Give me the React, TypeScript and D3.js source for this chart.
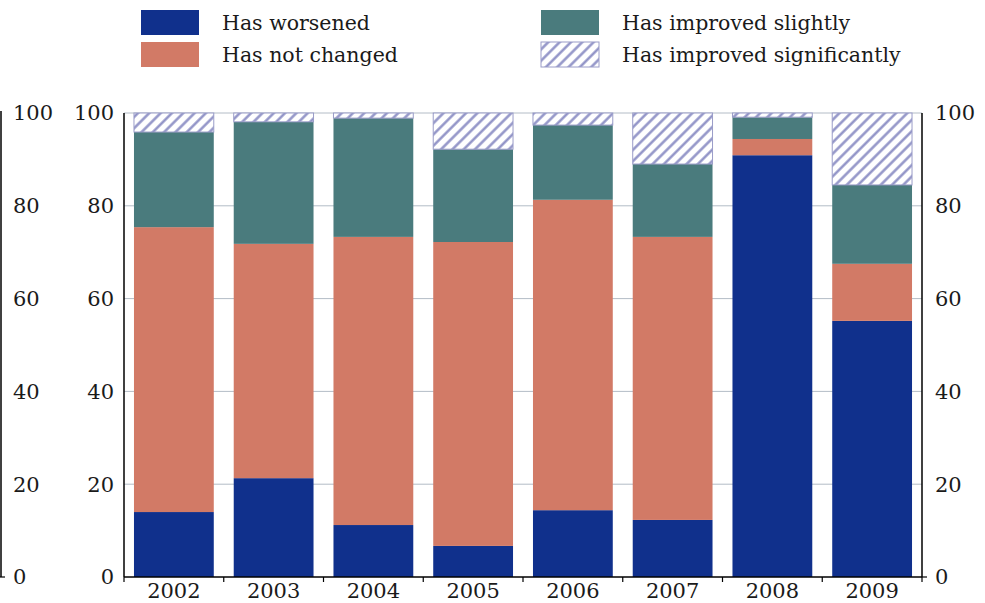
import * as d3 from 'd3';

const years = ['2002', '2003', '2004', '2005', '2006', '2007', '2008', '2009'];
const worsened = [14.0, 21.3, 11.2, 6.7, 14.4, 12.3, 90.9, 55.2];
const notChanged = [61.4, 50.5, 62.1, 65.5, 66.9, 61.0, 3.5, 12.3];
const improvedSlightly = [20.5, 26.3, 25.6, 20.0, 16.1, 15.7, 4.7, 17.0];
const improvedSignificantly = [4.1, 1.9, 1.1, 7.8, 2.6, 11.0, 0.9, 15.5];
const yTicks = [0, 20, 40, 60, 80, 100];

const seriesKeys = ['worsened', 'notChanged', 'slightly', 'significantly'];
const seriesLabels = ['Has worsened', 'Has not changed', 'Has improved slightly', 'Has improved significantly'];
const colors = ['#10308c', '#d27a66', '#4a7b7d', 'url(#hatch)'];

const W = 985;
const H = 603;
const margin = { top: 113, right: 63, bottom: 26, left: 124 };
const font = "'DejaVu Serif', 'Liberation Serif', 'Times New Roman', serif";

export default function App() {
  const rows = years.map((y, i) => ({
    year: y,
    worsened: worsened[i],
    notChanged: notChanged[i],
    slightly: improvedSlightly[i],
    significantly: improvedSignificantly[i],
  }));
  const stacked = d3.stack<any>().keys(seriesKeys)(rows);

  const x = d3.scaleBand().domain(years).range([margin.left, W - margin.right]).paddingInner(0.2).paddingOuter(0.1);
  const y = d3.scaleLinear().domain([0, 100]).range([H - margin.bottom, margin.top]);
  const x0 = margin.left;
  const x1 = W - margin.right;
  const boundaries = d3.range(years.length + 1).map(i => x0 + i * (x1 - x0) / years.length);

  return (
    <svg width={W} height={H} style={{ position: 'absolute', left: 0, top: 0, background: '#fff' }}>
      <defs>
        <pattern id="hatch" patternUnits="userSpaceOnUse" width="8" height="8" patternTransform="rotate(45)">
          <rect width="8" height="8" fill="#fff" />
          <line x1="1.5" y1="0" x2="1.5" y2="8" stroke="#8d8fc5" strokeWidth="2.4" />
        </pattern>
      </defs>

      {/* gridlines */}
      {yTicks.filter(t => t > 0).map(t => (
        <line key={t} x1={x0} x2={x1} y1={y(t)} y2={y(t)} stroke="#b3bcc6" strokeWidth={1} />
      ))}

      {/* bars */}
      {stacked.map((s, si) => (
        <g key={s.key}>
          {s.map((d, i) => (
            <rect
              key={i}
              x={x(years[i])}
              width={x.bandwidth()}
              y={y(d[1])}
              height={Math.max(0, y(d[0]) - y(d[1]))}
              fill={colors[si]}
              stroke={si === 3 ? '#9a9cc8' : 'none'}
              strokeWidth={si === 3 ? 1 : 0}
            />
          ))}
        </g>
      ))}

      {/* axes */}
      <line x1={x0} x2={x0} y1={y(100)} y2={y(0)} stroke="#000" strokeWidth={1.5} />
      <line x1={x1} x2={x1} y1={y(100)} y2={y(0)} stroke="#000" strokeWidth={1.5} />
      <line x1={x0} x2={x1} y1={y(0)} y2={y(0)} stroke="#000" strokeWidth={1.5} />
      {boundaries.map((b, i) => (
        <line key={i} x1={b} x2={b} y1={y(0)} y2={y(0) + 5} stroke="#000" strokeWidth={1.2} />
      ))}
      {yTicks.map(t => (
        <g key={t} fontFamily={font} fontSize={21} fill="#1a1a1a">
          <text x={x0 - 10} y={y(t)} dy="0.35em" textAnchor="end">{t}</text>
          <text x={x1 + 13} y={y(t)} dy="0.35em" textAnchor="start">{t}</text>
          <text x={13} y={y(t)} dy="0.35em" textAnchor="start">{t}</text>
        </g>
      ))}
      {/* edge of neighbouring panel */}
      <line x1={1} x2={1} y1={y(100) - 2} y2={y(0)} stroke="#000" strokeWidth={1.5} />
      <line x1={0} x2={5} y1={y(0)} y2={y(0)} stroke="#000" strokeWidth={1.2} />
      <line x1={x1} x2={x1 + 5} y1={y(0)} y2={y(0)} stroke="#000" strokeWidth={1.2} />

      {years.map(yr => (
        <text key={yr} x={(x(yr) ?? 0) + x.bandwidth() / 2} y={y(0) + 21} textAnchor="middle" fontFamily={font} fontSize={21} fill="#1a1a1a">{yr}</text>
      ))}

      {/* legend */}
      {seriesLabels.map((lab, i) => {
        const c = i < 2 ? 0 : 1;
        const r = i % 2;
        const lx = c === 0 ? 141 : 541;
        const ly = 10 + r * 32;
        return (
          <g key={lab}>
            <rect x={lx} y={ly} width={58} height={25} fill={colors[i]} stroke={i === 3 ? '#9a9cc8' : 'none'} />
            <text x={lx + 81} y={ly + 20} fontFamily={font} fontSize={20.5} fill="#1a1a1a">{lab}</text>
          </g>
        );
      })}
    </svg>
  );
}
